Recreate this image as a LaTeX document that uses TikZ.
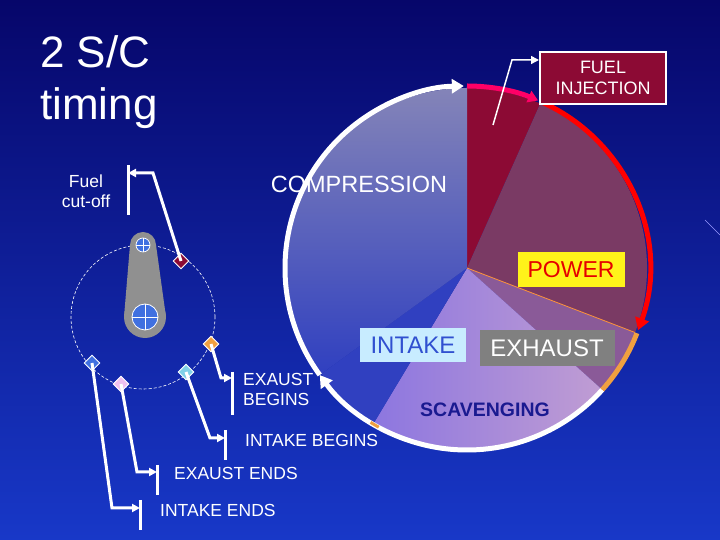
\documentclass[tikz,border=0pt]{standalone}
\usepackage{fontspec}
\setmainfont{Liberation Sans}
\usetikzlibrary{arrows.meta,calc}
\definecolor{bgtop}{HTML}{06066A}
\definecolor{bgbot}{HTML}{1838C8}
\definecolor{fired}{HTML}{8C0A34}
\definecolor{powc}{HTML}{7A3A64}
\definecolor{exhc}{HTML}{8A5A98}
\definecolor{scav}{HTML}{B094D8}
\definecolor{intc}{HTML}{3040C0}
\definecolor{compt}{HTML}{8484B8}
\definecolor{intbox}{HTML}{C8ECFF}
\definecolor{inttxt}{HTML}{3050D0}
\definecolor{orng}{HTML}{F0A040}
\definecolor{ltblue}{HTML}{80D0E8}
\definecolor{pnk}{HTML}{F0C0F0}
\definecolor{dblue}{HTML}{4070E0}
\definecolor{scavtxt}{HTML}{1A1A90}
\definecolor{armgray}{HTML}{909090}
\tikzset{
  lbl/.style={text=white,font=\fontsize{17.5}{20}\selectfont,inner sep=0pt},
  callout/.style={draw=white,line width=3pt,-{Triangle[length=8pt,width=8pt]}},
  bar/.style={draw=white,line width=3pt},
  dia/.style={draw=white,line width=0.8pt,minimum size=11pt,inner sep=0pt,rotate=45},
  ring/.style={draw=white,line width=5pt},
}
\begin{document}
\begin{tikzpicture}[x=1pt,y=1pt]
\useasboundingbox (0,0) rectangle (720,540);
\shade[top color=bgtop,bottom color=bgbot] (0,0) rectangle (720,540);
\draw[white!60!blue,line width=0.6pt] (705,320) -- (720,305);
% pie
\coordinate (C) at (467,272);
\fill[fired] (C) -- ++(90:180) arc (90:66:180) -- cycle;
\fill[powc] (C) -- ++(66:180) arc (66:-21:180) -- cycle;
\fill[exhc] (C) -- ++(-21:180) arc (-21:-42:180) -- cycle;
\shade[left color=scav!80!blue,right color=scav!80!pink] (C) -- ++(-42:180) arc (-42:-121:180) -- cycle;
\fill[intc] (C) -- ++(-121:180) arc (-121:-144:180) -- cycle;
\shade[top color=compt,bottom color=intc] (C) -- ++(-144:180) arc (216:90:180) -- cycle;
\draw[orange!70!pink,line width=0.8pt] (C) -- ++(-21:180);
% rim arcs
\draw[ring,-{Triangle[length=12pt,width=14pt]}] ($(C)+(-42:182)$) arc (-42:-144:182);
\draw[ring,-{Triangle[length=12pt,width=14pt]}] ($(C)+(-144:182)$) arc (216:91:182);
\draw[red!60!magenta,line width=5pt,-{Triangle[length=10pt,width=12pt]}] ($(C)+(90:182)$) arc (90:67:182);
\draw[red,line width=5pt,-{Triangle[length=12pt,width=14pt]}] ($(C)+(66:182)$) arc (66:-20:182);
\draw[orng,line width=5pt] ($(C)+(-21:182)$) arc (-21:-42:182);
\draw[orng,line width=3pt] ($(C)+(-119:182)$) arc (-119:-122:182);
% pie labels
\node[text=white,font=\fontsize{23.5}{26}\selectfont] (comp) at (359,356) {COMPRESSION};
\node[fill=yellow!90!white,text=red!90!black,font=\fontsize{23}{26}\selectfont,minimum width=107pt,minimum height=35pt] (pow) at (571,270) {POWER};
\node[fill=intbox,text=inttxt,font=\fontsize{24}{26}\selectfont,minimum width=106pt,minimum height=34pt] (intk) at (413,195) {INTAKE};
\node[fill=gray,text=white,font=\fontsize{24}{26}\selectfont,minimum width=135pt,minimum height=36pt] (exh) at (547,192) {EXHAUST};
\node[text=scavtxt,font=\bfseries\fontsize{19.5}{22}\selectfont] (scv) at (485,130) {SCAVENGING};
\node[fill=fired,draw=white,line width=2pt,text=white,align=center,font=\fontsize{18}{21}\selectfont,minimum width=126pt,minimum height=52pt] (fi) at (603,462) {FUEL\\INJECTION};
\coordinate (fis) at (493,415);
\coordinate (fib) at (512,480);
\draw[white,line width=1.5pt,-{Triangle[length=8pt,width=8pt]}] (fis) -- (fib) -- (fi.west |- fib);
% title
\node[anchor=north west,text=white,align=left,font=\fontsize{44}{52}\selectfont,inner sep=0pt] (title) at (40,505) {2 S/C\\timing};
% crank
\coordinate (O) at (143,223);
\draw[white,line width=0.6pt,dash pattern=on 3pt off 2pt] (O) circle (72);
\fill[armgray] (143,295) circle (13);
\fill[armgray] (145,223) circle (21);
\fill[armgray] (130,295) -- (156,295) -- (166,223) -- (124,223) -- cycle;
\draw[white,fill=dblue,line width=0.7pt] (143,295) circle (7);
\draw[white,line width=0.7pt] (136,295) -- (150,295) (143,288) -- (143,302);
\draw[white,fill=dblue,line width=0.8pt] (145,223) circle (13);
\draw[white,line width=0.8pt] (132,223) -- (158,223) (145,210) -- (145,236);
\node[dia,fill=fired] (d1) at (181,279) {};
\node[dia,fill=orng] (d2) at (211,196) {};
\node[dia,fill=ltblue] (d3) at (186,168) {};
\node[dia,fill=pnk] (d4) at (121,156) {};
\node[dia,fill=dblue] (d5) at (92,177) {};
% callouts
\coordinate (b1a) at (128,375); \coordinate (b1b) at (128,325);
\coordinate (k1) at (153,367);
\draw[bar] (b1a) -- (b1b);
\draw[callout] (d1.center) -- (k1) -- (b1a |- k1);
\coordinate (b2a) at (232,168); \coordinate (b2b) at (232,125); \coordinate (k2) at (221,162);
\draw[bar] (b2a) -- (b2b);
\draw[callout] (d2.center) -- (k2) -- (b2a |- k2);
\coordinate (b3a) at (225,110); \coordinate (b3b) at (225,80); \coordinate (k3) at (210,102);
\draw[bar] (b3a) -- (b3b);
\draw[callout] (d3.center) -- (k3) -- (b3a |- k3);
\coordinate (b4a) at (157,75); \coordinate (b4b) at (157,45); \coordinate (k4) at (137,68);
\draw[bar] (b4a) -- (b4b);
\draw[callout] (d4.center) -- (k4) -- (b4a |- k4);
\coordinate (b5a) at (140,40); \coordinate (b5b) at (140,10); \coordinate (k5) at (112,32);
\draw[bar] (b5a) -- (b5b);
\draw[callout] (d5.center) -- (k5) -- (b5a |- k5);
% labels
\node[lbl,align=center] (t1) at (86,349) {Fuel\\cut-off};
\node[lbl,align=left,anchor=west] (t2) at (243,151) {EXAUST\\BEGINS};
\node[lbl,anchor=west] (t3) at (245,100) {INTAKE BEGINS};
\node[lbl,anchor=west] (t4) at (174,67) {EXAUST ENDS};
\node[lbl,anchor=west] (t5) at (160,30) {INTAKE ENDS};
\end{tikzpicture}
\end{document}
